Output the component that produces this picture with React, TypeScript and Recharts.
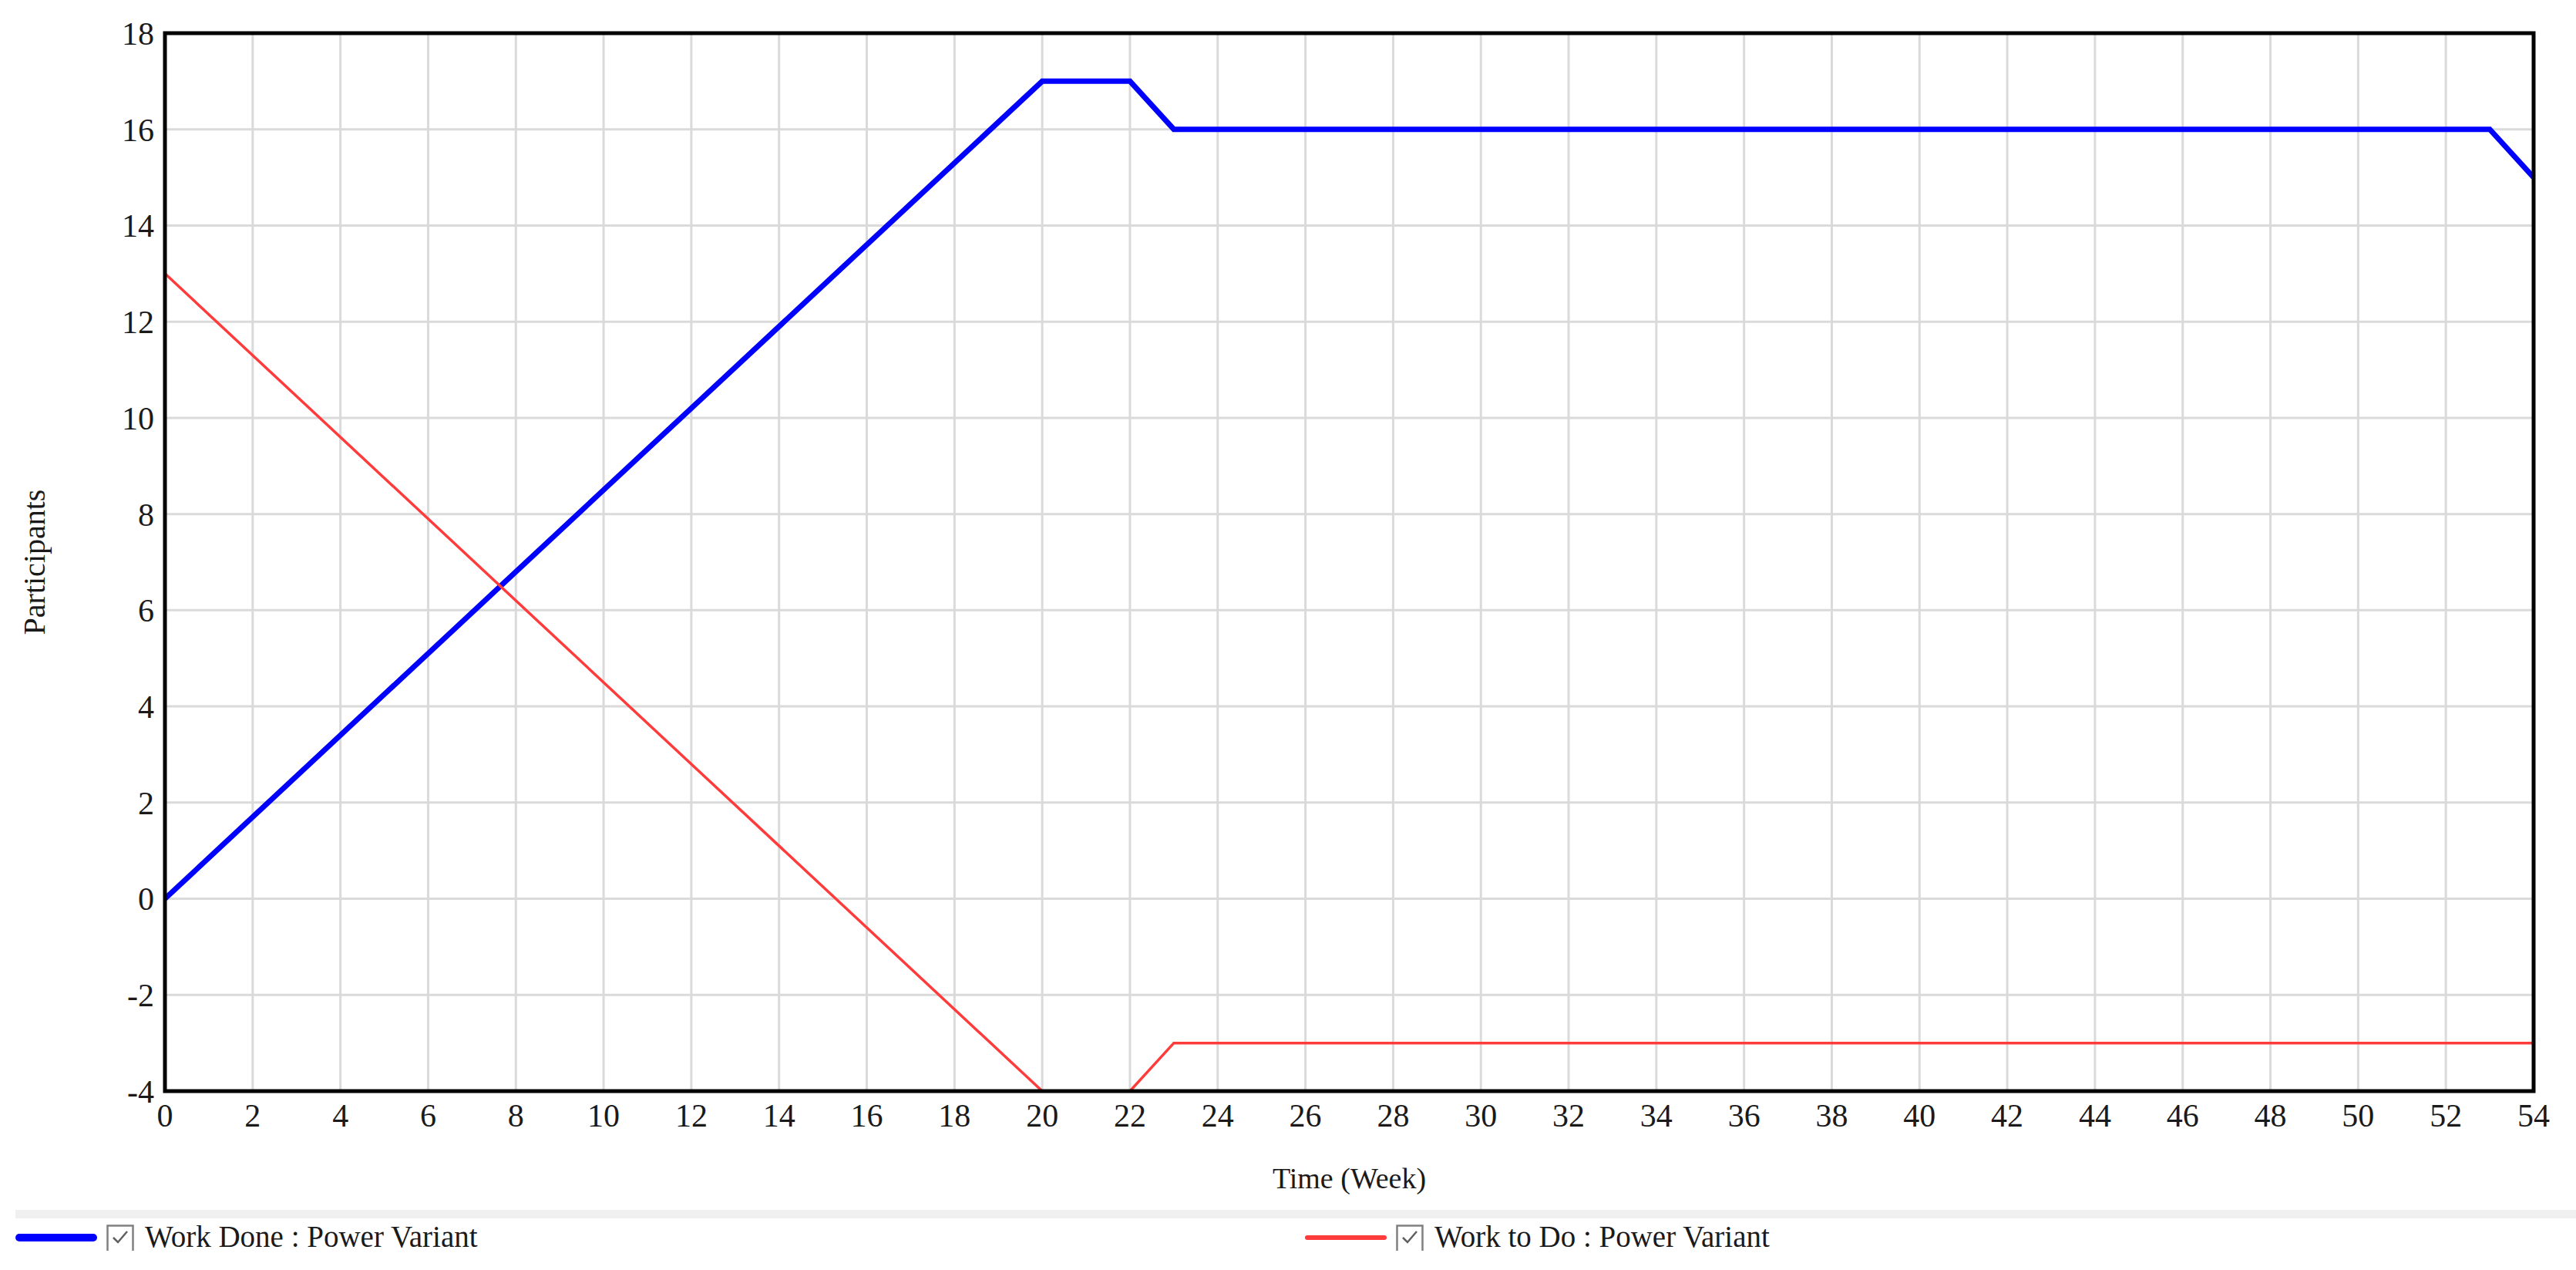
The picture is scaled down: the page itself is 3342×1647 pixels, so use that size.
import React from 'react';
import { LineChart, Line, XAxis, YAxis, CartesianGrid, Legend, ReferenceArea } from 'recharts';

// values (break points of each series)
const weeks = [0, 20, 22, 23, 53, 54];
const workDone = [0, 17, 17, 16, 16, 15];
const workToDo = [13, -4, -4, -3, -3, -3];

const xTicks = [0, 2, 4, 6, 8, 10, 12, 14, 16, 18, 20, 22, 24, 26, 28, 30, 32, 34, 36, 38, 40, 42, 44, 46, 48, 50, 52, 54];
const yTicks = [-4, -2, 0, 2, 4, 6, 8, 10, 12, 14, 16, 18];

const data = weeks.map((week, i) => ({ week, done: workDone[i], todo: workToDo[i] }));

const FONT = '"Liberation Serif", "Times New Roman", serif';
const INK = '#1a1a1a';

const legendLeft = [20, 1693];
const legendThick = [10, 6];

function LegendBar(props: any) {
  const items = props.payload ?? [];
  return (
    <div style={{ position: 'relative', width: 3342, height: 87, fontFamily: FONT, fontSize: 39, color: INK }}>
      <div style={{ position: 'absolute', left: 20, right: 0, top: 9, height: 11, background: '#f0f0f0' }} />
      {items.map((it: any, i: number) => (
        <div key={it.value} style={{ position: 'absolute', left: legendLeft[i], top: 0, height: 87 }}>
          <div
            style={{
              position: 'absolute',
              left: 0,
              top: 45 - legendThick[i] / 2,
              width: 106,
              height: legendThick[i],
              borderRadius: legendThick[i] / 2,
              background: it.color,
            }}
          />
          <svg style={{ position: 'absolute', left: 118, top: 28 }} width={36} height={34}>
            <path d="M1.5 34 V1.5 H34.5 V34" fill="none" stroke="#808080" strokeWidth={2.5} />
            <path d="M9 17 L15 23 L27 9" fill="none" stroke="#606060" strokeWidth={2.5} />
          </svg>
          <span style={{ position: 'absolute', left: 168, top: 24, lineHeight: '39px', whiteSpace: 'nowrap' }}>
            {it.value}
          </span>
        </div>
      ))}
    </div>
  );
}

function YTitle(props: any) {
  const { viewBox } = props;
  const cx = 44;
  const cy = viewBox.y + viewBox.height / 2;
  return (
    <text
      x={cx}
      y={cy}
      transform={`rotate(-90 ${cx} ${cy})`}
      textAnchor="middle"
      dominantBaseline="central"
      fontFamily={FONT}
      fontSize={40}
      fill={INK}
    >
      Participants
    </text>
  );
}

function XTitle(props: any) {
  const { viewBox } = props;
  return (
    <text
      x={viewBox.x + viewBox.width / 2}
      y={viewBox.y + 126}
      textAnchor="middle"
      fontFamily={FONT}
      fontSize={38}
      fill={INK}
    >
      Time (Week)
    </text>
  );
}

export default function App() {
  return (
    <div style={{ position: 'absolute', left: 0, top: 0, width: 3342, height: 1647, background: '#fff' }}>
      <LineChart width={3342} height={1647} data={data} margin={{ top: 43, right: 55, left: 0, bottom: 92 }}>
        <CartesianGrid stroke="#dadada" strokeWidth={3} horizontalValues={yTicks} verticalValues={xTicks} />
        <XAxis
          dataKey="week"
          type="number"
          domain={[0, 54]}
          ticks={xTicks}
          interval={0}
          height={140}
          axisLine={false}
          tickLine={false}
          tickSize={0}
          tickMargin={16}
          tick={{ fill: INK, fontSize: 42, fontFamily: FONT }}
          label={<XTitle />}
        />
        <YAxis
          type="number"
          domain={[-4, 18]}
          ticks={yTicks}
          interval={0}
          width={214}
          axisLine={false}
          tickLine={false}
          tickSize={0}
          tickMargin={14}
          tick={{ fill: INK, fontSize: 42, fontFamily: FONT }}
          label={<YTitle />}
        />
        <Line
          type="linear"
          dataKey="done"
          name="Work Done : Power Variant"
          stroke="#0000ff"
          strokeWidth={7}
          dot={false}
          activeDot={false}
          isAnimationActive={false}
        />
        <Line
          type="linear"
          dataKey="todo"
          name="Work to Do : Power Variant"
          stroke="#ff3b3b"
          strokeWidth={3.5}
          dot={false}
          activeDot={false}
          isAnimationActive={false}
        />
        {/* plot frame, kept above the series so the flat -4 stretch hides under it */}
        <ReferenceArea
          x1={0}
          x2={54}
          y1={-4}
          y2={18}
          fill="none"
          stroke="#000"
          strokeWidth={5}
          {...({ zIndex: 1000 } as any)}
        />
        <Legend
          layout="horizontal"
          verticalAlign="middle"
          align="center"
          wrapperStyle={{ top: 1560, left: 0, width: 3342 }}
          content={<LegendBar />}
        />
      </LineChart>
    </div>
  );
}
